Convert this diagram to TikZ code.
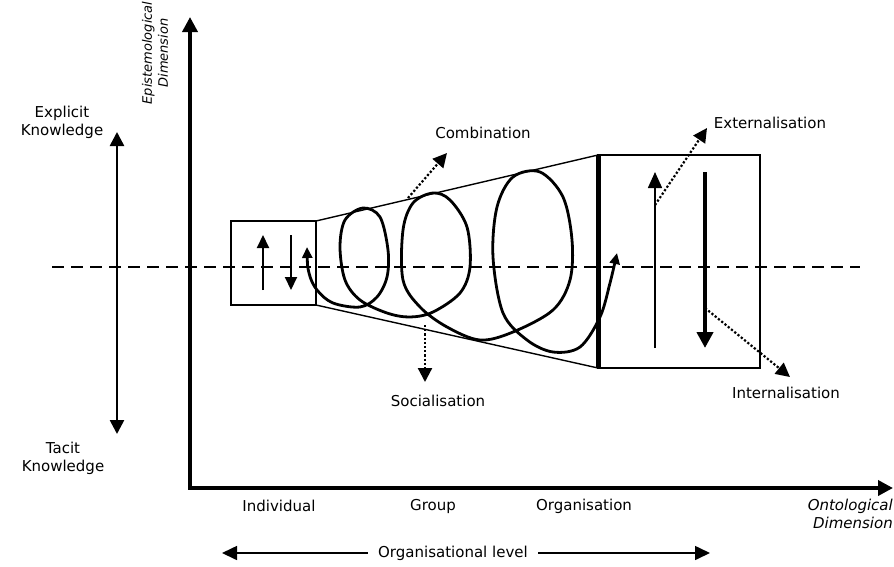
\documentclass[tikz,border=0pt]{standalone}
\usepackage{fontspec}
\setmainfont{DejaVu Sans}
\usetikzlibrary{arrows.meta}
\begin{document}
\begin{tikzpicture}[x=1pt,y=-1pt,
  lbl/.style={font=\fontsize{15}{18}\selectfont, align=center, inner sep=0pt},
  ilbl/.style={lbl, font=\fontsize{15}{18}\selectfont\itshape},
  axis/.style={line width=3.6pt, -{Triangle[length=15pt,width=15pt]}},
  dbl/.style={line width=2.6pt, {Triangle[length=14pt,width=14pt]}-{Triangle[length=14pt,width=14pt]}},
  boxln/.style={line width=1.4pt},
  dotarrow/.style={line width=2.2pt, dotted, -{Triangle[length=14pt,width=14pt]}},
  spiral/.style={line width=2.8pt, {Triangle[length=11pt,width=10pt]}-{Triangle[length=11pt,width=10pt]}},
  smallup/.style={line width=2pt, -{Triangle[length=13pt,width=12pt]}}
]
\useasboundingbox (0,0) rectangle (894,566);

% coordinates
\coordinate (O) at (190,488);
\coordinate (ytip) at (190,17);
\coordinate (xtip) at (893,488);
\coordinate (dashL) at (52,267);
\coordinate (dashR) at (860,267);
\coordinate (kTop) at (117,132);
\coordinate (kBot) at (117,434);
\coordinate (sbTL) at (231,221);
\coordinate (sbBR) at (316,305);
\coordinate (sbTR) at (316,221);
\coordinate (bbTL) at (598,155);
\coordinate (bbBL) at (598,368);
\coordinate (bbBR) at (760,368);

% dashed line
\draw[line width=1.8pt, dash pattern=on 12pt off 7pt] (dashL) -- (dashR);

% axes
\draw[axis] (O) -- (ytip);
\draw[axis] ([xshift=-1.8pt]O) -- (xtip);

% knowledge arrow
\draw[dbl] (kTop) -- (kBot);

% small box
\draw[boxln] (sbTL) rectangle (sbBR);
\draw[smallup] (263,290) coordinate (a1s) -- (263,235) coordinate (a1e);
\draw[smallup] (291,235) coordinate (a2s) -- (291,290) coordinate (a2e);

% trapezoid
\draw[boxln] (sbTR) -- (bbTL);
\draw[boxln] (316,305) -- (bbBL);

% big box
\draw[boxln] (bbTL) rectangle (bbBR);
\draw[line width=5pt] (bbTL) -- (bbBL);
\draw[line width=1.6pt, -{Triangle[length=16pt,width=14pt]}] (655,348) coordinate (b1s) -- (655,172) coordinate (b1e);
\draw[line width=4.2pt, -{Triangle[length=16pt,width=16pt]}] (705,172) coordinate (b2s) -- (705,348) coordinate (b2e);

% spiral
\draw[spiral] plot[smooth, tension=0.55] coordinates {
 (307,247) (309,273) (317,290) (333,303) (360,307) (377,297) (387,277) (388,250)
 (380,217) (363,208) (345,220) (340,247) (345,280) (360,300) (387,313) (410,317)
 (433,312) (460,293) (470,267) (467,227) (450,200) (433,193) (413,203) (403,230)
 (403,280) (420,307) (447,327) (480,340) (513,332) (553,310) (570,280) (572,240)
 (563,197) (540,172) (513,177) (497,207) (493,257) (503,313) (527,340) (553,352)
 (580,347) (600,317) (610,283) (617,253)};

% labels
\node[lbl] (explicit) at (62,122) {Explicit\\Knowledge};
\node[lbl] (tacit) at (63,458) {Tacit\\Knowledge};
\node[ilbl, font=\fontsize{13}{16}\selectfont\itshape, rotate=90] (epi) at (155,53) {Epistemological\\Dimension};
\node[lbl] (comb) at (483,133) {Combination};
\node[lbl] (ext) at (770,123) {Externalisation};
\node[lbl] (soc) at (438,401) {Socialisation};
\node[lbl] (int) at (786,393) {Internalisation};
\node[lbl] (indiv) at (279,506) {Individual};
\node[lbl] (group) at (433,506) {Group};
\node[lbl] (orgn) at (584,506) {Organisation};
\node[ilbl, align=right, anchor=north east] (onto) at (893,499) {Ontological\\Dimension};
\node[lbl] (level) at (453,553) {Organisational level};

% dotted arrows
\draw[dotarrow] (655,205) -- (707,128);
\draw[dotarrow] (705,308) -- (790,377);
\draw[dotarrow] (408,198) -- (447,153);
\draw[dotarrow] (425,325) -- (425,382);

% organisational level arrows
\coordinate (lvL) at (222,553);
\coordinate (lvR) at (710,553);
\draw[line width=1.6pt, -{Triangle[length=15pt,width=14pt]}] ([xshift=-10pt]level.west) -- (lvL);
\draw[line width=1.6pt, -{Triangle[length=15pt,width=14pt]}] ([xshift=10pt]level.east) -- (lvR);
\end{tikzpicture}
\end{document}
